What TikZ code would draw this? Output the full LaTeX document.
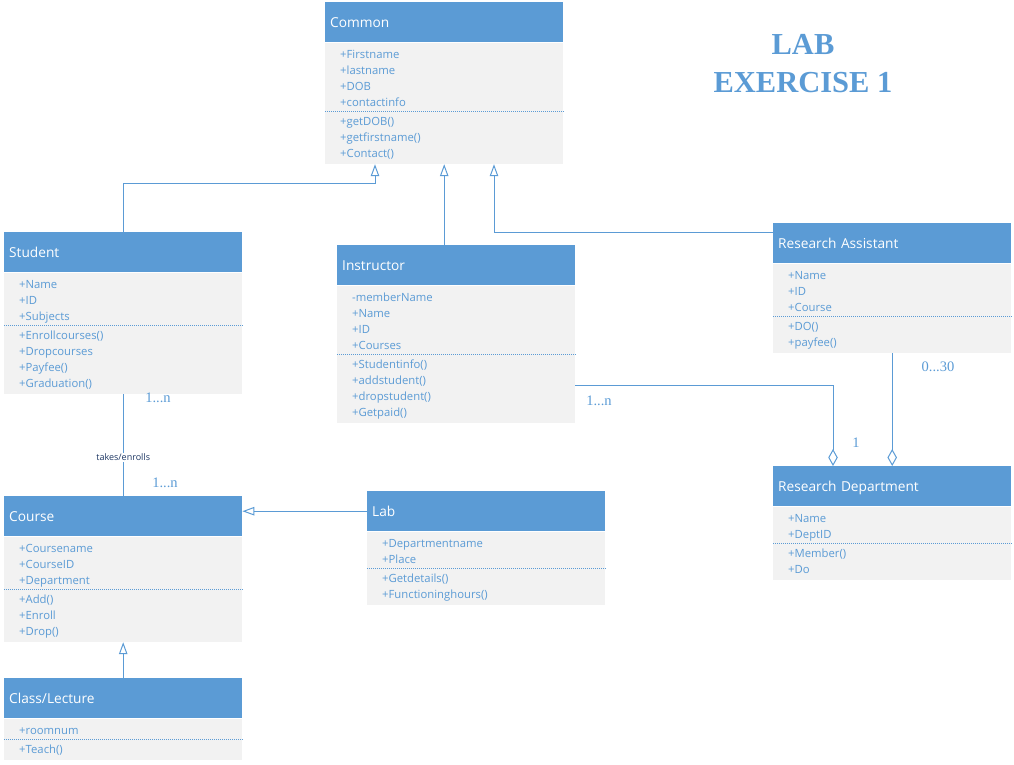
\documentclass[tikz,border=0pt]{standalone}
\usepackage{fontspec}
\usepackage{tikz}
\usetikzlibrary{arrows.meta, positioning}
\newfontfamily\umlsans{Open Sans}
\newfontfamily\umlserif{Liberation Serif}
\definecolor{hdrblue}{HTML}{5B9BD5}
\definecolor{bodygray}{HTML}{F2F2F2}
\definecolor{navy}{HTML}{1F3864}
\tikzstyle{head}=[rectangle, fill=hdrblue, anchor=north west, minimum height=40pt, text width=228pt, inner xsep=5pt, inner ysep=0pt, align=left, text=white, font=\umlsans\fontsize{13.7}{16}\selectfont, text height=9.8pt, text depth=0pt]
\tikzstyle{part}=[rectangle, fill=bodygray, text width=208pt, inner xsep=15pt, inner ysep=1.5pt, align=left, text=hdrblue, font=\umlsans\fontsize{11.3}{16}\selectfont]
\tikzstyle{attr}=[part, execute at begin node={\rule{0pt}{14.5pt}}, execute at end node={\rule[-3.5pt]{0pt}{3.5pt}}]
\tikzstyle{oper}=[part, execute at begin node={\rule{0pt}{12pt}}, execute at end node={\rule[-5pt]{0pt}{5pt}}]
\tikzstyle{sepline}=[hdrblue, line width=0.9pt, dash pattern=on 1pt off 1pt]
\tikzstyle{assoc}=[draw=hdrblue, line width=1pt]
\tikzstyle{inherit}=[assoc, -{Triangle[open, length=12pt, width=8.5pt]}]
\tikzstyle{aggr}=[assoc, -{Diamond[open, length=17pt, width=9.5pt]}]
\tikzstyle{mult}=[text=hdrblue, inner sep=0pt, font=\umlserif\fontsize{14.5}{16}\selectfont]
\tikzstyle{title}=[text=hdrblue, inner sep=0pt, anchor=north, align=center, font=\umlserif\bfseries\fontsize{30.5}{38.5}\selectfont]

\begin{document}
\begin{tikzpicture}[x=1pt, y=-1pt]
\useasboundingbox (0,0) rectangle (1014,764);

\node[title] (title) at (803,34) {LAB\\EXERCISE 1};

% classes
\node[head] at (325,2) (common) {Common};
\node[attr, below = 0pt of common] (common_at) {+Firstname\\+lastname\\+DOB\\+contactinfo};
\node[oper, below = 0pt of common_at] (common_op) {+getDOB()\\+getfirstname()\\+Contact()};
\draw[sepline] (common_at.south west) -- (common_at.south east);

\node[head] at (4,232) (student) {Student};
\node[attr, below = 0pt of student] (student_at) {+Name\\+ID\\+Subjects};
\node[oper, below = 0pt of student_at] (student_op) {+Enrollcourses()\\+Dropcourses\\+Payfee()\\+Graduation()};
\draw[sepline] (student_at.south west) -- (student_at.south east);

\node[head] at (337,245) (instructor) {Instructor};
\node[attr, below = 0pt of instructor] (instructor_at) {-memberName\\+Name\\+ID\\+Courses};
\node[oper, below = 0pt of instructor_at] (instructor_op) {+Studentinfo()\\+addstudent()\\+dropstudent()\\+Getpaid()};
\draw[sepline] (instructor_at.south west) -- (instructor_at.south east);

\node[head] at (773,223) (ra) {Research Assistant};
\node[attr, below = 0pt of ra] (ra_at) {+Name\\+ID\\+Course};
\node[oper, below = 0pt of ra_at] (ra_op) {+DO()\\+payfee()};
\draw[sepline] (ra_at.south west) -- (ra_at.south east);

\node[head] at (773,466) (rd) {Research Department};
\node[attr, below = 0pt of rd] (rd_at) {+Name\\+DeptID};
\node[oper, below = 0pt of rd_at] (rd_op) {+Member()\\+Do};
\draw[sepline] (rd_at.south west) -- (rd_at.south east);

\node[head] at (4,496) (course) {Course};
\node[attr, below = 0pt of course] (course_at) {+Coursename\\+CourseID\\+Department};
\node[oper, below = 0pt of course_at] (course_op) {+Add()\\+Enroll\\+Drop()};
\draw[sepline] (course_at.south west) -- (course_at.south east);

\node[head] at (367,491) (lab) {Lab};
\node[attr, below = 0pt of lab] (lab_at) {+Departmentname\\+Place};
\node[oper, below = 0pt of lab_at] (lab_op) {+Getdetails()\\+Functioninghours()};
\draw[sepline] (lab_at.south west) -- (lab_at.south east);

\node[head] at (4,678) (lecture) {Class/Lecture};
\node[attr, below = 0pt of lecture] (lecture_at) {+roomnum};
\node[oper, below = 0pt of lecture_at] (lecture_op) {+Teach()};
\draw[sepline] (lecture_at.south west) -- (lecture_at.south east);

% generalisation
\draw[inherit] (student.north) -- ++(0,-49) -| ([xshift=50pt]common_op.south west);
\draw[inherit] (common_op.south |- instructor.north) -- (common_op.south);
\draw[inherit] ([yshift=-9pt]ra.north west) -| ([xshift=169pt]common_op.south west);
\draw[inherit] (lab.west) -- (lab.west -| course.east);
\draw[inherit] (lecture.north) -- (course_op.south);

% association and aggregation
\draw[assoc] (student_op.south) -- node[pos=0.62, fill=white, inner sep=1pt, text=navy, font=\umlsans\fontsize{9}{10}\selectfont] (takes) {takes/enrolls} (course.north);
\draw[aggr] ([yshift=4pt]instructor_op.east) -| ([xshift=60pt]rd.north west);
\draw[aggr] (ra_op.south) -- (rd.north);

\node[mult] (m_student) at (158,398) {1...n};
\node[mult] (m_course) at (165,483) {1...n};
\node[mult] (m_instr) at (599,401) {1...n};
\node[mult] (m_rd) at (856,443) {1};
\node[mult] (m_ra) at (938,367) {0...30};
\end{tikzpicture}
\end{document}
